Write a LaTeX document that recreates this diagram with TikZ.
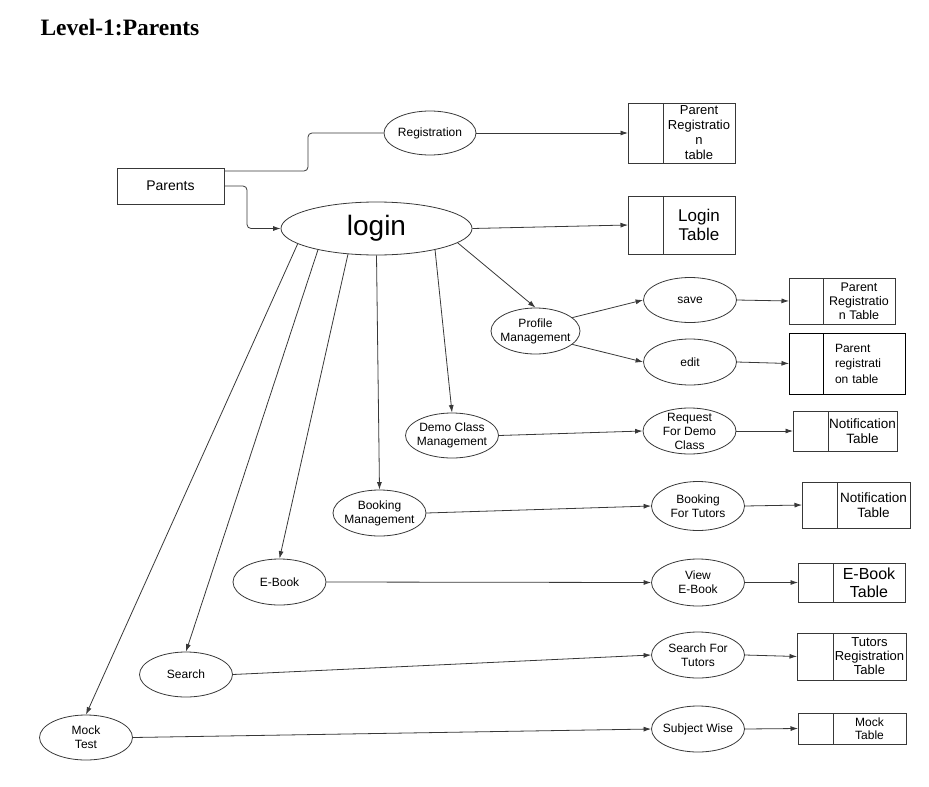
\documentclass[tikz,border=0pt]{standalone}
\usepackage{fontspec}
\setmainfont{Liberation Sans}
\newfontfamily\titlefont{Liberation Serif}
\usetikzlibrary{shapes.geometric,positioning,arrows.meta}
\colorlet{dfdline}{black!78}
\tikzset{
  link/.style={draw=dfdline, line width=0.8pt},
  flow/.style={link, -{Latex[length=7.5pt,width=5pt]}},
  proc/.style={ellipse, link, inner sep=-4pt, minimum width=93pt, minimum height=46pt,
    align=center, font=\fontsize{12}{14}\selectfont},
  store/.style={rectangle, link, inner sep=0pt, outer sep=0pt, align=center},
}
\begin{document}
\begin{tikzpicture}[x=1pt, y=-1pt]
\useasboundingbox (0,0) rectangle (929,787);
\node[anchor=base west, font=\titlefont\bfseries\fontsize{23.5}{27}\selectfont] (title) at (37,35) {Level-1:Parents};

% entity and processes
\node[store, minimum width=107pt, minimum height=36pt, font=\fontsize{14}{16}\selectfont] (parents) at (170.5,186) {Parents};
\node[proc, minimum width=92pt, minimum height=44pt] (reg) at (430,133) {Registration};
\node[proc, minimum width=191pt, minimum height=53pt, font=\fontsize{28}{32}\selectfont] (login) at (376.5,228.5) {login};
\node[proc, minimum width=89pt] (prof) at (535.5,331) {Profile\\Management};
\node[proc, minimum height=45pt] (save) at (690,300) {save};
\node[proc] (edit) at (690,362) {edit};
\node[proc, minimum height=45pt] (demo) at (452,435.5) {Demo Class\\Management};
\node[proc] (req) at (689.5,431) {Request\\For Demo\\Class};
\node[proc] (book) at (379.5,513) {Booking\\Management};
\node[proc, minimum height=49pt] (bft) at (698,506) {Booking\\For Tutors};
\node[proc] (ebook) at (279.5,582) {E-Book};
\node[proc, minimum height=47pt] (vebook) at (698,582.5) {View\\E-Book};
\node[proc, minimum height=45pt] (search) at (186,674.5) {Search};
\node[proc] (sft) at (698,655) {Search For\\Tutors};
\node[proc, minimum height=45pt] (mock) at (86,737.5) {Mock\\Test};
\node[proc] (sw) at (698,729) {Subject Wise};

% data stores: left cell + text cell
\node[store, minimum width=35pt, minimum height=60pt] (prtab) at (645.5,133) {};
\node[store, right=0pt of prtab, minimum width=72pt, minimum height=60pt, font=\fontsize{13}{15}\selectfont] (prtab-t) {Parent\\Registratio\\n\\table};
\node[store, minimum width=35pt, minimum height=58pt] (ltab) at (645.5,225) {};
\node[store, right=0pt of ltab, minimum width=72pt, minimum height=58pt, font=\fontsize{17}{19}\selectfont] (ltab-t) {Login\\Table};
\node[store, minimum width=34pt, minimum height=46pt] (prt2) at (806,301) {};
\node[store, right=0pt of prt2, minimum width=72pt, minimum height=46pt, font=\fontsize{12.5}{14}\selectfont] (prt2-t) {Parent\\Registratio\\n Table};
\node[store, draw=black, line width=1pt, minimum width=34pt, minimum height=61pt] (prt3) at (806,363.5) {};
\node[store, draw=black, line width=1pt, right=0pt of prt3, minimum width=82pt, minimum height=61pt, text width=58pt, align=left, font=\fontsize{12}{15.5}\selectfont] (prt3-t) {Parent\\registrati\\on table};
\node[store, minimum width=35pt, minimum height=40pt] (nt1) at (810.5,431) {};
\node[store, right=0pt of nt1, minimum width=69pt, minimum height=40pt, font=\fontsize{13.5}{15.5}\selectfont] (nt1-t) {Notification\\Table};
\node[store, minimum width=35pt, minimum height=46pt] (nt2) at (819.5,505) {};
\node[store, right=0pt of nt2, minimum width=73pt, minimum height=46pt, font=\fontsize{13.5}{15.5}\selectfont] (nt2-t) {Notification\\Table};
\node[store, minimum width=35pt, minimum height=39pt] (ebt) at (815.5,582.5) {};
\node[store, right=0pt of ebt, minimum width=72pt, minimum height=39pt, font=\fontsize{16}{18}\selectfont] (ebt-t) {E-Book\\Table};
\node[store, minimum width=36pt, minimum height=47pt] (trt) at (815,656.5) {};
\node[store, right=0pt of trt, minimum width=73pt, minimum height=47pt, font=\fontsize{13}{14}\selectfont] (trt-t) {Tutors\\Registration\\Table};
\node[store, minimum width=35pt, minimum height=31pt] (mt) at (815.5,728.5) {};
\node[store, right=0pt of mt, minimum width=73pt, minimum height=31pt, font=\fontsize{12}{13.5}\selectfont] (mt-t) {Mock\\Table};

% connectors
\draw[link, rounded corners=4pt] ([yshift=15pt]parents.east) -- ++(84,0) |- (reg.west);
\draw[flow, rounded corners=4pt] (parents.east) -- ++(23,0) |- (login.west);
\draw[flow] (reg.east) -- (prtab.west);
\draw[flow] (login.east) -- (ltab.west);
\draw[flow] (login.-10) -- (prof.north);
\draw[flow] (login.-20) -- (demo.north);
\draw[flow] (login.270) -- (book.north);
\draw[flow] (login.222) -- (ebook.north);
\draw[flow] (login.200) -- (search.north);
\draw[flow] (login.191) -- (mock.north);
\draw[flow] (prof.20) -- (save.west);
\draw[flow] (prof.-20) -- (edit.west);
\draw[flow] (save.east) -- (prt2.west);
\draw[flow] (edit.east) -- (prt3.west);
\draw[flow] (demo.east) -- (req.west);
\draw[flow] (req.east) -- (nt1.west);
\draw[flow] (book.east) -- (bft.west);
\draw[flow] (bft.east) -- (nt2.west);
\draw[flow] (ebook.east) -- (vebook.west);
\draw[flow] (vebook.east) -- (ebt.west);
\draw[flow] (search.east) -- (sft.west);
\draw[flow] (sft.east) -- (trt.west);
\draw[flow] (mock.east) -- (sw.west);
\draw[flow] (sw.east) -- (mt.west);
\end{tikzpicture}
\end{document}
